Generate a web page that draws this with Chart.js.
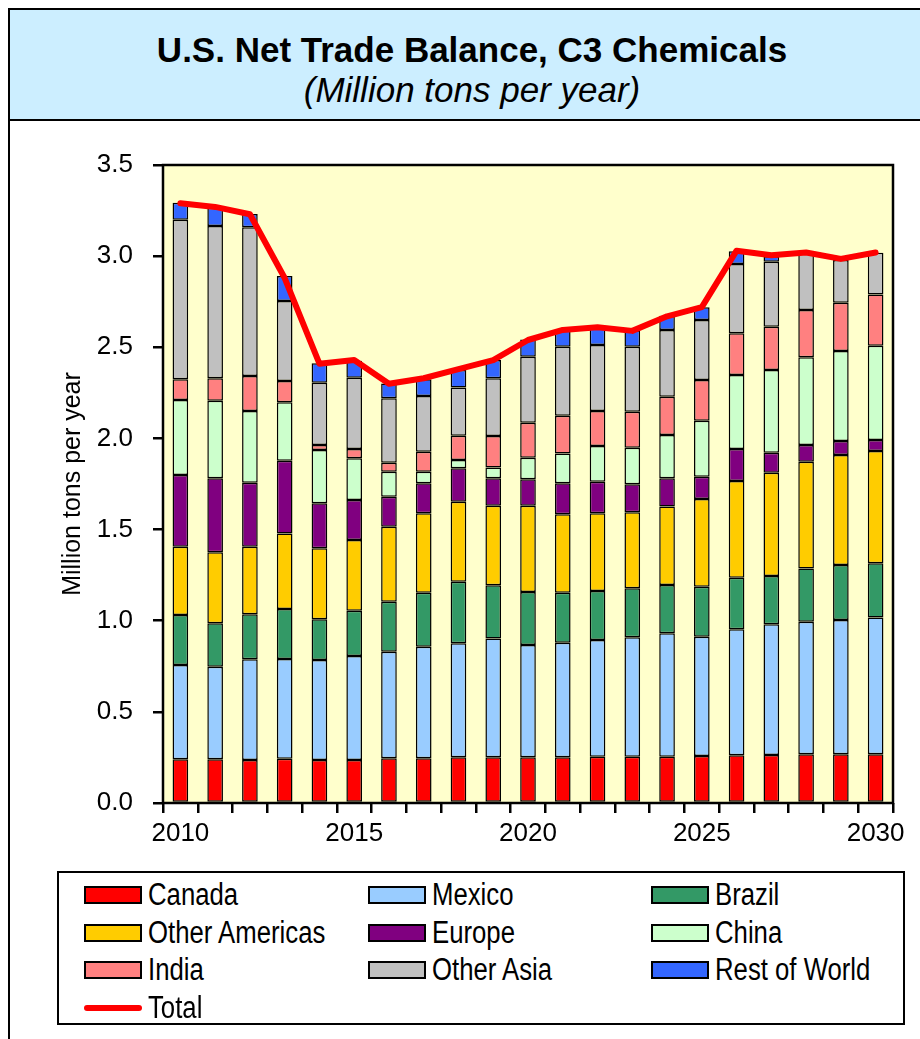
<!DOCTYPE html>
<html>
<head>
<meta charset="utf-8">
<script src="https://cdn.jsdelivr.net/npm/chart.js@4.4.1/dist/chart.umd.min.js"></script>
<style>
  body { margin: 0; background: #fff; width: 920px; height: 1039px; overflow: hidden; position: relative; }
  #titlebox {
    position: absolute; left: 8px; top: 8px; width: 930px; height: 113px;
    background: #cceeff; border: 2px solid #000; box-sizing: border-box;
    text-align: center; font-family: 'Liberation Sans', Arial, sans-serif; color: #000;
  }
  #titlebox .t1 { position: absolute; left: 0; width: 924px; top: 20px; font-weight: bold; font-size: 35px; }
  #titlebox .t2 { position: absolute; left: 0; width: 924px; top: 60px; font-style: italic; font-size: 35px; }
  #frame { position: absolute; left: 8px; top: 120px; width: 940px; height: 940px; border-left: 2px solid #000; }
  #chart { position: absolute; left: 0; top: 0; }
  #legend {
    position: absolute; left: 57px; top: 871px; width: 848px; height: 154px;
    border: 2px solid #000; box-sizing: border-box; background: #fff;
  }
  .item { position: absolute; height: 36px; font-family: 'Liberation Sans', Arial, sans-serif; font-size: 31px; color: #000; white-space: nowrap; }
  .sw { position: absolute; left: 0; top: 9px; width: 58px; height: 18px; border: 2px solid #000; box-sizing: border-box; }
  .ln { position: absolute; left: 0; top: 15px; width: 58px; height: 6px; border-radius: 3px; }
  .lbl { position: absolute; left: 64px; top: 0; line-height: 36px; transform: scaleX(0.83); transform-origin: 0 50%; }
</style>
</head>
<body>
<div id="titlebox">
  <div class="t1">U.S. Net Trade Balance, C3 Chemicals</div>
  <div class="t2">(Million tons per year)</div>
</div>
<div id="frame"></div>
<canvas id="chart" width="920" height="1039"></canvas>
<div id="legend"></div>
<script>
const years = ['2010','2011','2012','2013','2014','2015','2016','2017','2018','2019','2020',
  '2021','2022','2023','2024','2025','2026','2027','2028','2029','2030'];

const canada = [0.24,0.24,0.236,0.243,0.236,0.236,0.245,0.245,0.251,0.251,0.251,0.251,0.254,0.254,0.254,0.258,0.262,0.263,0.267,0.267,0.267];
const mexico = [0.517,0.508,0.552,0.547,0.548,0.570,0.585,0.612,0.625,0.652,0.616,0.628,0.640,0.655,0.677,0.654,0.691,0.717,0.728,0.737,0.750];
const brazil = [0.274,0.238,0.247,0.274,0.224,0.249,0.274,0.297,0.338,0.291,0.291,0.275,0.269,0.269,0.265,0.275,0.283,0.265,0.292,0.302,0.298];
const otherAmericas = [0.375,0.389,0.371,0.415,0.389,0.388,0.412,0.435,0.439,0.437,0.473,0.430,0.426,0.417,0.430,0.481,0.530,0.567,0.585,0.603,0.616];
const europe = [0.394,0.406,0.351,0.399,0.247,0.219,0.164,0.165,0.183,0.150,0.145,0.170,0.174,0.153,0.155,0.122,0.176,0.110,0.092,0.077,0.060];
const china = [0.411,0.426,0.393,0.320,0.292,0.229,0.137,0.063,0.046,0.060,0.118,0.164,0.195,0.201,0.238,0.307,0.406,0.453,0.481,0.493,0.518];
const india = [0.113,0.123,0.192,0.117,0.028,0.051,0.050,0.110,0.133,0.172,0.192,0.207,0.192,0.197,0.210,0.223,0.229,0.238,0.259,0.265,0.281];
const otherAsia = [0.876,0.835,0.816,0.439,0.342,0.391,0.353,0.306,0.265,0.317,0.362,0.378,0.362,0.357,0.366,0.330,0.380,0.356,0.320,0.235,0.229];
const restOfWorld = [0.093,0.10,0.073,0.137,0.106,0.093,0.082,0.091,0.095,0.100,0.095,0.092,0.10,0.09,0.078,0.07,0.07,0.031,0,0,0];
const total = [3.29,3.27,3.23,2.88,2.41,2.43,2.30,2.33,2.38,2.43,2.54,2.595,2.61,2.59,2.67,2.72,3.03,3.005,3.02,2.985,3.02];

const yTicks = [0, 0.5, 1.0, 1.5, 2.0, 2.5, 3.0, 3.5];

const sans = "'Liberation Sans', Arial, sans-serif";

function bar(label, data, color) {
  return {
    type: 'bar', label, data,
    backgroundColor: color, borderColor: '#000', borderWidth: 1.5, borderSkipped: false,
    barPercentage: 0.45, categoryPercentage: 1, stack: 'regions', order: 1
  };
}

// yellow plot area + black frame
const plotFrame = {
  id: 'plotFrame',
  beforeDraw(chart) {
    const { ctx, chartArea: a } = chart;
    ctx.save();
    ctx.fillStyle = '#ffffcc';
    ctx.fillRect(a.left, a.top, a.right - a.left, a.bottom - a.top);
    ctx.restore();
  },
  beforeDatasetsDraw(chart) {
    const { ctx, chartArea: a } = chart;
    ctx.save();
    ctx.strokeStyle = '#000';
    ctx.lineWidth = 2.5;
    ctx.strokeRect(a.left, a.top, a.right - a.left, a.bottom - a.top);
    ctx.restore();
  }
};

const chart = new Chart(document.getElementById('chart'), {
  data: {
    labels: years,
    datasets: [
      bar('Canada', canada, '#ff0000'),
      bar('Mexico', mexico, '#99ccff'),
      bar('Brazil', brazil, '#339966'),
      bar('Other Americas', otherAmericas, '#ffcc00'),
      bar('Europe', europe, '#800080'),
      bar('China', china, '#ccffcc'),
      bar('India', india, '#ff8080'),
      bar('Other Asia', otherAsia, '#c0c0c0'),
      bar('Rest of World', restOfWorld, '#3366ff'),
      {
        type: 'line', label: 'Total', data: total,
        borderColor: '#ff0000', backgroundColor: '#ff0000', borderWidth: 6,
        pointRadius: 0, tension: 0, stack: 'total', order: 0,
        borderJoinStyle: 'round', borderCapStyle: 'round'
      }
    ]
  },
  options: {
    responsive: false,
    animation: false,
    layout: { padding: { left: 0, top: 165, right: 27, bottom: 176 } },
    plugins: { legend: { display: false }, tooltip: { enabled: false } },
    scales: {
      x: {
        stacked: true,
        border: { display: false },
        grid: { offset: true, drawOnChartArea: false, tickLength: 10, color: '#000', lineWidth: 2.5 },
        ticks: {
          autoSkip: false, maxRotation: 0, color: '#000', padding: 5,
          font: { family: sans, size: 26 },
          callback: (v, i) => (i % 5 === 0 ? years[i] : '')
        },
        afterFit: s => { s.height = 60; }
      },
      y: {
        stacked: true, min: 0, max: 3.5,
        border: { display: false },
        afterBuildTicks: s => { s.ticks = yTicks.map(v => ({ value: v })); },
        grid: { drawOnChartArea: false, tickLength: 10, color: '#000', lineWidth: 2.5 },
        ticks: {
          color: '#000', padding: 20,
          font: { family: sans, size: 26 },
          callback: v => v.toFixed(1)
        },
        title: {
          display: true, text: 'Million tons per year', color: '#000',
          font: { family: sans, size: 25 },
          padding: { top: 58, bottom: 0 }
        },
        afterFit: s => { s.width = 163; }
      }
    }
  },
  plugins: [plotFrame]
});

// legend in three columns, built from the chart's datasets
const legend = document.getElementById('legend');
const colX = [25, 309, 592];
const rowY = [4, 42, 79, 117];
chart.data.datasets.forEach((ds, i) => {
  const item = document.createElement('div');
  item.className = 'item';
  item.style.left = colX[i % 3] + 'px';
  item.style.top = rowY[Math.floor(i / 3)] + 'px';
  const mark = document.createElement('div');
  if (ds.type === 'line') {
    mark.className = 'ln';
    mark.style.background = ds.borderColor;
  } else {
    mark.className = 'sw';
    mark.style.background = ds.backgroundColor;
  }
  const lbl = document.createElement('div');
  lbl.className = 'lbl';
  lbl.textContent = ds.label;
  item.appendChild(mark);
  item.appendChild(lbl);
  legend.appendChild(item);
});
</script>
</body>
</html>
